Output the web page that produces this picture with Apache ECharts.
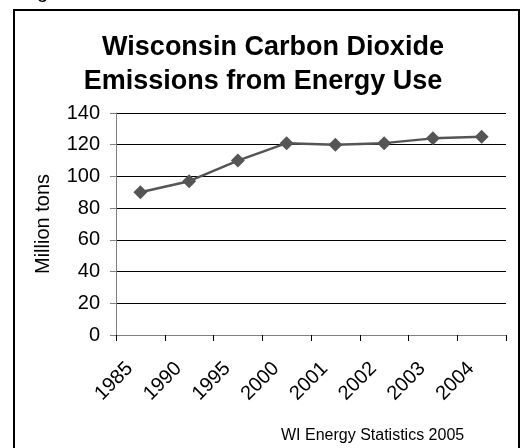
<!DOCTYPE html>
<html><head><meta charset="utf-8">
<script src="https://cdn.jsdelivr.net/npm/echarts@6/dist/echarts.min.js"></script>
<style>html,body{margin:0;padding:0;background:#fff}#c{width:528px;height:448px}</style>
</head><body><div id="c"></div>
<script>
var categories = ['1985','1990','1995','2000','2001','2002','2003','2004'];
var emissions = [90, 97, 110, 121, 120, 121, 124, 125];
var yTicks = {min: 0, max: 140, interval: 20};
var titleLine1 = 'Wisconsin Carbon Dioxide';
var titleLine2 = 'Emissions from Energy Use';
var yName = 'Million tons';
var sourceText = 'WI Energy Statistics 2005';

var FONT = 'Liberation Sans, Arial, sans-serif';
var chart = echarts.init(document.getElementById('c'), null, {renderer: 'canvas'});
chart.setOption({
  animation: false,
  backgroundColor: '#fff',
  title: [
    {text: titleLine1, left: 273, top: 31, textAlign: 'center', padding: 0,
     textStyle: {fontFamily: FONT, fontWeight: 'bold', fontSize: 27, lineHeight: 34, color: '#000'}},
    {text: titleLine2, left: 263, top: 65, textAlign: 'center', padding: 0,
     textStyle: {fontFamily: FONT, fontWeight: 'bold', fontSize: 27, lineHeight: 34, color: '#000'}}
  ],
  grid: {left: 116, right: 22, top: 113, bottom: 113},
  xAxis: {
    type: 'category', data: categories, boundaryGap: true,
    axisLine: {lineStyle: {color: '#808080', width: 1}},
    axisTick: {show: true, alignWithLabel: false, length: 6, lineStyle: {color: '#000'}},
    axisLabel: {rotate: 45, margin: 20, padding: [0, 15, 0, 0], fontSize: 20, color: '#000', fontFamily: FONT}
  },
  yAxis: {
    type: 'value', min: yTicks.min, max: yTicks.max, interval: yTicks.interval,
    name: yName, nameLocation: 'middle', nameGap: 63, nameRotate: 90,
    nameTextStyle: {fontSize: 20, color: '#000', fontFamily: FONT},
    axisLine: {show: true, lineStyle: {color: '#808080', width: 1}},
    axisTick: {show: true, length: 6, lineStyle: {color: '#808080'}},
    axisLabel: {margin: 16, fontSize: 20, color: '#000', fontFamily: FONT},
    splitLine: {show: true, lineStyle: {color: '#000', width: 1}}
  },
  series: [{
    type: 'line', data: emissions,
    symbol: 'diamond', symbolSize: 14,
    lineStyle: {color: '#555', width: 2.5},
    itemStyle: {color: '#555'}
  }],
  graphic: [
    {type: 'rect', shape: {x: 14, y: 10, width: 505, height: 460}, style: {fill: 'none', stroke: '#000', lineWidth: 2}, z: 10},
    {type: 'text', left: 281, top: 428, style: {text: sourceText, fontSize: 16, fill: '#000', fontFamily: FONT}},
    {type: 'text', x: 37, y: 2, style: {text: 'g', fontSize: 20, fill: '#000', fontFamily: FONT, verticalAlign: 'bottom'}}
  ]
});
</script></body></html>
